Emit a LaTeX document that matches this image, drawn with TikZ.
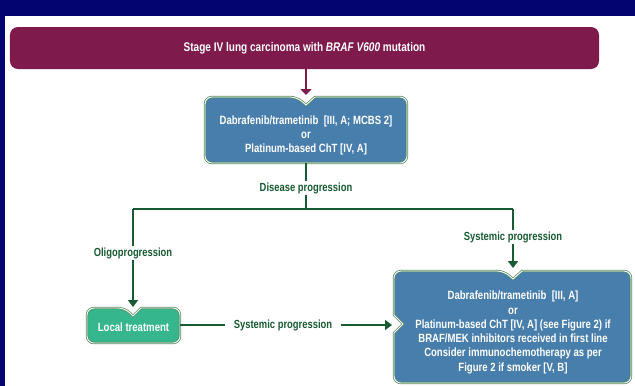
\documentclass[tikz,border=0pt]{standalone}
\usepackage{fontspec}
\setmainfont[FakeStretch=0.8]{Liberation Sans}
\usetikzlibrary{arrows.meta}
\definecolor{navy}{RGB}{4,4,112}
\definecolor{maroon}{RGB}{126,26,76}
\definecolor{boxblue}{RGB}{72,126,172}
\definecolor{boxedge}{RGB}{84,140,100}
\definecolor{tealbox}{RGB}{54,182,140}
\definecolor{dgreen}{RGB}{24,90,50}
\begin{document}
\begin{tikzpicture}[x=1bp,y=-1bp]
\tikzset{
  lbl/.style={text=dgreen, font=\bfseries\fontsize{11.8}{13}\selectfont, inner sep=1pt},
  boxtxt/.style={text=white, font=\bfseries\fontsize{12}{14.3}\selectfont, align=center, inner sep=0pt},
  gline/.style={draw=dgreen, line width=1.8pt},
  garrow/.style={gline, -{Triangle[width=10pt,length=7pt]}},
  framed/.style={draw=boxedge, line width=2.4pt, postaction={draw=white, line width=0.9pt}},
}
\useasboundingbox (0,0) rectangle (635,385);
\fill[white] (-5,-5) rectangle (645,395);
\fill[navy] (-5,-5) rectangle (645,16);
\fill[navy] (-5,16) rectangle (5,395);

% top box
\node[fill=maroon, rounded corners=8pt, minimum width=589bp, minimum height=42bp,
      text=white, font=\bfseries\fontsize{12.6}{14}\selectfont] (top) at (304.5,48)
      {Stage IV lung carcinoma with \textit{BRAF V600} mutation};

% first-line box
\path[fill=boxblue, framed, rounded corners=7pt]
  (205,130) -- (205,97) -- (297,97) [sharp corners] -- (306,105) -- (315,97)
  [rounded corners=7pt] -- (407,97) -- (407,163) -- (205,163) -- cycle;
\node[boxtxt] (first) at (306,135.5)
  {Dabrafenib/trametinib\ \ [III, A; MCBS 2]\\or\\Platinum-based ChT [IV, A]};
\coordinate (a1) at (306,95);
\coordinate (b1s) at (306,163);
\draw[maroon, line width=2pt, -{Triangle[width=11pt,length=6pt]}] (top.south -| a1) -- (a1);

% local treatment box
\path[fill=tealbox, framed, rounded corners=7pt]
  (87,325) -- (87,308) -- (125,308) [sharp corners] -- (133,316) -- (141,308)
  [rounded corners=7pt] -- (180,308) -- (180,343) -- (87,343) -- cycle;
\node[boxtxt] (local) at (133.5,327) {Local treatment};

% second-line box
\path[fill=boxblue, framed, rounded corners=7pt]
  (394,300) -- (394,271) -- (504,271) [sharp corners] -- (513,279) -- (522,271)
  [rounded corners=7pt] -- (631,271) -- (631,383) -- (394,383) [sharp corners]
  -- (394,333) -- (403,324) -- (394,315) [rounded corners=7pt] -- cycle;
\node[boxtxt] (second) at (513,332.5)
  {Dabrafenib/trametinib\ \ [III, A]\\or\\Platinum-based ChT [IV, A] (see Figure 2) if\\
   BRAF/MEK inhibitors received in first line\\Consider immunochemotherapy as per\\
   Figure 2 if smoker [V, B]};

% labels
\node[lbl] (dp) at (306,188) {Disease progression};
\node[lbl] (oligo) at (133,253) {Oligoprogression};
\node[lbl] (sys1) at (513,237) {Systemic progression};
\node[lbl] (sys2) at (283,325) {Systemic progression};

% connectors
\coordinate (j) at (306,209);
\coordinate (jl) at (133,209);
\coordinate (jr) at (513,209);
\coordinate (a2) at (133,307);
\coordinate (a3) at (513,268);
\coordinate (a4) at (392,325);
\coordinate (l1) at (180,325);
\draw[gline] (b1s) -- (dp.north);
\draw[gline] (dp.south) -- (j);
\draw[gline] (jl) -- (jr);
\draw[gline] (jl) -- (oligo.north);
\draw[garrow] (oligo.south) -- (a2);
\draw[gline] (jr) -- (sys1.north);
\draw[garrow] (sys1.south) -- (a3);
\draw[gline] (l1) -- ([xshift=-8pt]sys2.west);
\draw[garrow] ([xshift=8pt]sys2.east) -- (a4);
\end{tikzpicture}
\end{document}
